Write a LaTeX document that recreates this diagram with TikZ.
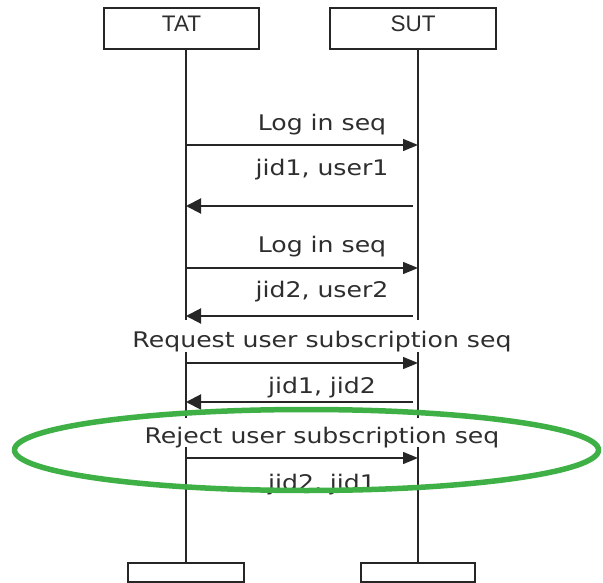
\documentclass[tikz,border=0pt]{standalone}
\usepackage{fontspec}
\setmainfont{DejaVu Sans}[FakeStretch=1.17]
\newfontfamily\hdrfont{Liberation Sans}
\usetikzlibrary{arrows.meta,shapes.geometric}
\definecolor{ink}{HTML}{262626}
\definecolor{txt}{HTML}{2E2E2E}
\definecolor{ringgreen}{RGB}{62,176,70}
\begin{document}
\begin{tikzpicture}[x=1pt,y=-1pt,
  hdrbox/.style={draw=ink, line width=1.6pt, fill=white, inner sep=0pt},
  hdrtext/.style={font=\hdrfont\fontsize{22.5}{25}\selectfont, text=txt, inner sep=0pt, anchor=base},
  msg/.style={font=\fontsize{21.5}{24}\selectfont, text=txt, inner sep=0pt, anchor=base},
  msgbg/.style={msg, fill=white, inner xsep=6pt, inner ysep=0pt},
  life/.style={draw=ink, line width=1.8pt},
  callarr/.style={draw=ink, line width=1.4pt, -{Triangle[length=15pt,width=12pt]}},
  retarr/.style={draw=ink, line width=2pt, -{Triangle[length=15pt,width=15pt]}},
  ring/.style={draw=ringgreen, line width=5.5pt, ellipse, inner sep=0pt}
]
\useasboundingbox[fill=white] (0,0) rectangle (603,583);

% header and footer boxes
\node[hdrbox, minimum width=155pt, minimum height=41pt] (tatbox) at (181.5,28.5) {};
\node[hdrbox, minimum width=166pt, minimum height=41pt] (sutbox) at (413,28.5) {};
\node[hdrtext] (tatlbl) at (181.5,31.5) {TAT};
\node[hdrtext] (sutlbl) at (413,32) {SUT};
\node[hdrbox, minimum width=116pt, minimum height=19pt] (tatbot) at (186,572.5) {};
\node[hdrbox, minimum width=114pt, minimum height=19pt] (sutbot) at (418,572.5) {};

% lifelines
\draw[life] (tatbot.north |- tatbox.south) -- (tatbot.north);
\draw[life] (sutbot.north |- sutbox.south) -- (sutbot.north);

% message labels
\node[msg] (m1) at (322,131) {Log in seq};
\node[msgbg, text height=24pt, text depth=4pt] (m2) at (322,176) {jid1, user1};
\node[msg] (m3) at (322,252) {Log in seq};
\node[msgbg, text height=25pt, text depth=12pt] (m4) at (322,298) {jid2, user2};
\node[msgbg, text height=27pt, text depth=5pt] (m5) at (322,347) {Request user subscription seq};
\node[msg] (m6) at (322,393) {jid1, jid2};
\node[msgbg, text height=25pt, text depth=4pt] (m7) at (322,443) {Reject user subscription seq};
\node[msg] (m8) at (322,490) {jid2, jid1};

% arrow end points on the lifelines
\coordinate (t1) at (186,145);  \coordinate (s1) at (418,145);
\coordinate (t2) at (186,206);  \coordinate (s2) at (413,206);
\coordinate (t3) at (186,268);  \coordinate (s3) at (418,268);
\coordinate (t4) at (186,316);  \coordinate (s4) at (413,316);
\coordinate (t5) at (186,363);  \coordinate (s5) at (418,363);
\coordinate (t6) at (186,402);  \coordinate (s6) at (413,402);
\coordinate (t7) at (186,458);  \coordinate (s7) at (418,458);

\draw[callarr] (t1) -- (s1);
\draw[retarr]  (s2) -- (t2);
\draw[callarr] (t3) -- (s3);
\draw[retarr]  (s4) -- (t4);
\draw[callarr] (t5) -- (s5);
\draw[retarr]  (s6) -- (t6);
\draw[callarr] (t7) -- (s7);

% green highlight
\node[ring, minimum width=584pt, minimum height=81pt] (hl) at (306.5,450) {};
\end{tikzpicture}
\end{document}
